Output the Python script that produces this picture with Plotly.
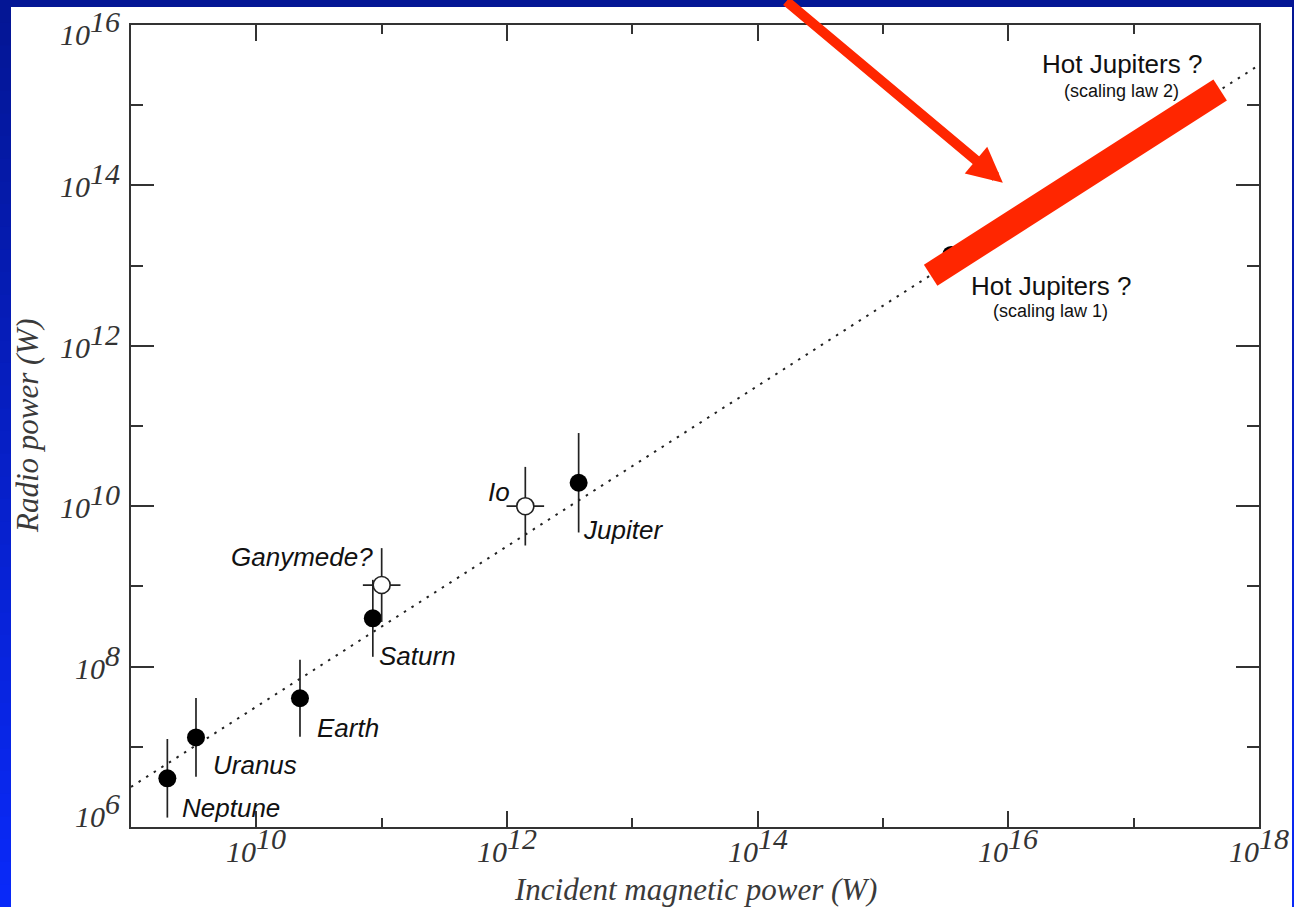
import numpy as np
import plotly.graph_objects as go

# ---------------- data ----------------
planet_names = ["Neptune", "Uranus", "Earth", "Saturn", "Jupiter"]
planet_incident_w = [1.95e9, 3.3e9, 2.23e10, 8.5e10, 3.73e12]
planet_radio_w = [4.05e6, 1.31e7, 4.03e7, 4.0e8, 1.96e10]
planet_radio_err_dex = [0.49, 0.49, 0.48, 0.48, 0.62]

moon_names = ["Ganymede?", "Io"]
moon_incident_w = [1.0e11, 1.40e12]
moon_radio_w = [1.04e9, 1.0e10]
moon_radio_err_dex = [0.46, 0.49]
moon_incident_err_dex = [0.15, 0.15]

hot_jupiter_incident_w = [3.5e15]
hot_jupiter_radio_w = [1.36e13]
hot_jupiter_range_incident_w = [2.4e15, 4.9e17]

law_incident_w = [1e9, 1e18]
law_efficiency = 10 ** -2.5  # radio power / incident power

x_tick_exponents = [10, 12, 14, 16, 18]
y_tick_exponents = [6, 8, 10, 12, 14, 16]
x_minor_exponents = [9, 11, 13, 15, 17]
y_minor_exponents = [7, 9, 11, 13, 15]

# ---------------- styling / layout constants ----------------
W, H = 1294, 907
M = dict(l=131, r=35, t=25, b=80)
PW = W - M["l"] - M["r"]
PH = H - M["t"] - M["b"]


def pxx(px):
    return (px - M["l"]) / PW


def pxy(py):
    return (H - M["b"] - py) / PH


RED = "#ff2600"
INK = "#222222"
FRAME = "#333333"

label_style = {
    "Neptune": ("left", 13, -30),
    "Uranus": ("left", 15, -28),
    "Earth": ("left", 15, -30),
    "Saturn": ("left", 4, -38),
    "Jupiter": ("left", 2, -47),
    "Ganymede?": ("right", -7, 28),
    "Io": ("right", -13, 14),
}


def err_plus(vals, dex):
    return [v * (10 ** d - 1) for v, d in zip(vals, dex)]


def err_minus(vals, dex):
    return [v * (1 - 10 ** -d) for v, d in zip(vals, dex)]


fig = go.Figure()

# scaling law (dotted)
fig.add_trace(go.Scatter(
    x=law_incident_w,
    y=[law_efficiency * v for v in law_incident_w],
    mode="lines",
    line=dict(color=INK, width=2, dash="2.5px,6.5px"),
    hoverinfo="skip", showlegend=False,
))

# hot Jupiter point (mostly hidden)
fig.add_trace(go.Scatter(
    x=hot_jupiter_incident_w, y=hot_jupiter_radio_w, mode="markers",
    marker=dict(color="black", size=18), showlegend=False,
))

# hot Jupiter predicted range (thick red bar)
fig.add_trace(go.Scatter(
    x=hot_jupiter_range_incident_w,
    y=[law_efficiency * v for v in hot_jupiter_range_incident_w],
    mode="lines", line=dict(color=RED, width=25),
    showlegend=False,
))

# planets
fig.add_trace(go.Scatter(
    x=planet_incident_w, y=planet_radio_w, mode="markers",
    marker=dict(color="black", size=18, line=dict(width=0)),
    error_y=dict(type="data", symmetric=False,
                 array=err_plus(planet_radio_w, planet_radio_err_dex),
                 arrayminus=err_minus(planet_radio_w, planet_radio_err_dex),
                 color=INK, thickness=1.7, width=0),
    showlegend=False,
))

# moons
fig.add_trace(go.Scatter(
    x=moon_incident_w, y=moon_radio_w, mode="markers",
    marker=dict(color="white", size=17, line=dict(width=1.6, color=INK)),
    error_y=dict(type="data", symmetric=False,
                 array=err_plus(moon_radio_w, moon_radio_err_dex),
                 arrayminus=err_minus(moon_radio_w, moon_radio_err_dex),
                 color=INK, thickness=1.7, width=0),
    error_x=dict(type="data", symmetric=False,
                 array=err_plus(moon_incident_w, moon_incident_err_dex),
                 arrayminus=err_minus(moon_incident_w, moon_incident_err_dex),
                 color=INK, thickness=1.7, width=0),
    showlegend=False,
))

annotations = []

# body labels
for names, xs, ys in [(planet_names, planet_incident_w, planet_radio_w),
                      (moon_names, moon_incident_w, moon_radio_w)]:
    for n, xv, yv in zip(names, xs, ys):
        anc, dx, dy = label_style[n]
        annotations.append(dict(
            x=np.log10(xv), y=np.log10(yv), xref="x", yref="y", text=n,
            showarrow=False, xanchor=anc, yanchor="middle", xshift=dx, yshift=dy,
            font=dict(family="Liberation Sans", size=26, color="#111111", style="italic"),
        ))

# hot Jupiter labels
hj_text = [
    ("Hot Jupiters ?", 26, 16.907, 15.52),
    ("(scaling law 2)", 18, 16.901, 15.171),
    ("Hot Jupiters ?", 26, 16.337, 12.746),
    ("(scaling law 1)", 18, 16.337, 12.434),
]
for t, s, lx, ly in hj_text:
    annotations.append(dict(
        x=lx, y=ly, xref="x", yref="y", text=t, showarrow=False,
        xanchor="center", yanchor="middle",
        font=dict(family="Liberation Sans", size=s, color="#111111"),
    ))

# red arrow
annotations.append(dict(
    x=15.956, y=14.034, xref="x", yref="y", text="", showarrow=True,
    ax=-218, ay=-192, axref="pixel", ayref="pixel",
    arrowhead=2, arrowsize=0.7, arrowwidth=10, arrowcolor=RED,
))

# tick labels (10 with full-size superscript)
tick_font = dict(family="Liberation Serif", size=30, color=FRAME, style="italic")


def power_label(e):
    return f"10<sup><span style='font-size:30px'>{e}</span></sup>"


for e in x_tick_exponents:
    annotations.append(dict(
        x=e, y=0, xref="x", yref="paper", text=power_label(e), showarrow=False,
        xanchor="center", yanchor="middle", yshift=-18, font=tick_font,
    ))
end_nudge = {16: -8, 6: 12}
for e in y_tick_exponents:
    annotations.append(dict(
        x=0, y=e, xref="paper", yref="y", text=power_label(e), showarrow=False,
        xanchor="right", yanchor="middle", xshift=-9, yshift=5 + end_nudge.get(e, 0),
        font=tick_font,
    ))

# axis titles
title_font = dict(family="Liberation Serif", size=31, color="#3a3a3a", style="italic")
annotations.append(dict(
    x=0.5, y=0, xref="paper", yref="paper", text="Incident magnetic power (W)",
    showarrow=False, xanchor="center", yanchor="middle", yshift=-62, font=title_font,
))
annotations.append(dict(
    x=0, y=0.5, xref="paper", yref="paper", text="Radio power (W)", textangle=-90,
    showarrow=False, xanchor="center", yanchor="middle", xshift=-104, font=title_font,
))

# background: blue gradient and white panel
shapes = []
N = 40
top_c = np.array([4, 22, 148])
bot_c = np.array([10, 42, 250])
for i in range(N):
    y0 = H * i / N
    y1 = H * (i + 1) / N + 1
    c = top_c + (bot_c - top_c) * (i + 0.5) / N
    shapes.append(dict(
        type="rect", xref="paper", yref="paper", layer="below",
        x0=pxx(0), x1=pxx(W), y0=pxy(y1), y1=pxy(y0),
        fillcolor=f"rgb({int(c[0])},{int(c[1])},{int(c[2])})", line=dict(width=0),
    ))
shapes.append(dict(
    type="rect", xref="paper", yref="paper", layer="below",
    x0=pxx(11), x1=pxx(1292), y0=pxy(H + 2), y1=pxy(7),
    fillcolor="white", line=dict(width=0),
))

axis_common = dict(
    type="log", showgrid=False, zeroline=False, showticklabels=False,
    showline=True, linecolor=FRAME, linewidth=2, mirror="ticks",
    ticks="inside", tickcolor=FRAME, tickwidth=1.5,
)

fig.update_layout(
    width=W, height=H, autosize=False,
    margin=dict(l=M["l"], r=M["r"], t=M["t"], b=M["b"], pad=0),
    paper_bgcolor="rgb(6,30,190)", plot_bgcolor="rgba(0,0,0,0)",
    xaxis=dict(**axis_common, range=[9, 18], ticklen=16,
               tickmode="array", tickvals=[10 ** e for e in x_tick_exponents],
               minor=dict(ticks="inside", ticklen=9, tickcolor=FRAME, tickwidth=1.5,
                          tickmode="array", tickvals=[10 ** e for e in x_minor_exponents],
                          showgrid=False)),
    yaxis=dict(**axis_common, range=[6, 16], ticklen=23,
               tickmode="array", tickvals=[10 ** e for e in y_tick_exponents],
               minor=dict(ticks="inside", ticklen=12, tickcolor=FRAME, tickwidth=1.5,
                          tickmode="array", tickvals=[10 ** e for e in y_minor_exponents],
                          showgrid=False)),
    annotations=annotations, shapes=shapes, showlegend=False,
)

fig.write_html("out.html")
